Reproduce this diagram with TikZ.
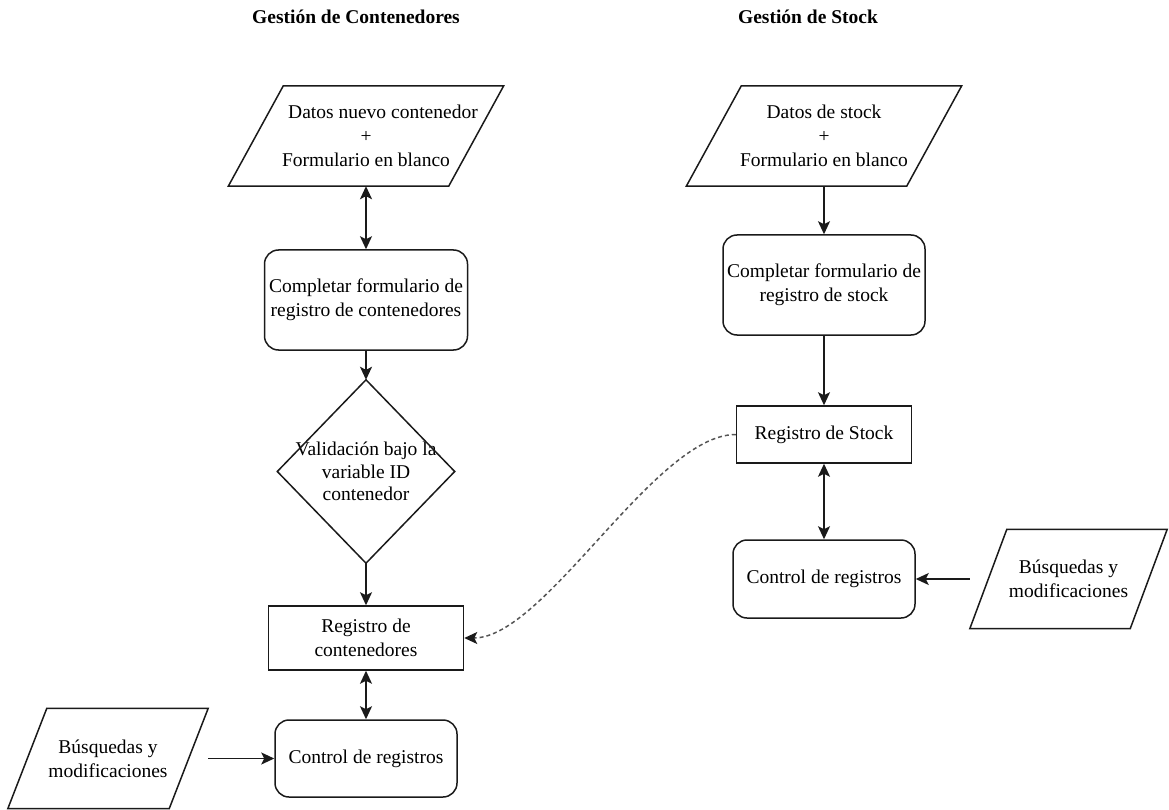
\documentclass[tikz,border=0pt]{standalone}
\usepackage{fontspec}
\setmainfont{Liberation Serif}
\usetikzlibrary{arrows.meta}
\definecolor{lc}{HTML}{1A1A1A}
\definecolor{dc}{HTML}{555555}
\begin{document}
\begin{tikzpicture}[x=1pt,y=-1pt,
  txt/.style={font=\fontsize{19.5}{24}\selectfont, align=center, inner sep=0pt, text=black},
  box/.style={txt, draw=lc, line width=1.5pt, rectangle},
  rbox/.style={box, rounded corners=14pt},
  holder/.style={txt, rectangle},
  outline/.style={draw=lc, line width=1.5pt, line join=miter},
  tip/.tip={Stealth[length=13pt,width=12pt,inset=3pt]},
  arr/.style={draw=lc, line width=1.6pt, -tip},
  darr/.style={draw=lc, line width=1.6pt, tip-tip},
  dlink/.style={draw=dc, line width=1.5pt, dash pattern=on 4pt off 3pt, -{Stealth[length=13pt,width=12pt,inset=3pt,color=lc]}},
  title/.style={font=\bfseries\fontsize{19.5}{24}\selectfont, inner sep=0pt}
]
\useasboundingbox (0,0) rectangle (1169,810);

% titles
\node[title] (t1) at (356,17) {Gestión de Contenedores};
\node[title] (t2) at (808,17) {Gestión de Stock};

% ---------- left column ----------
\node[holder, minimum width=275pt, minimum height=100pt] (dnc) at (366,136)
  {\hspace*{34pt}Datos nuevo contenedor\\+\\Formulario en blanco};
\draw[outline] (dnc.south west) -- ([xshift=-55pt]dnc.south east) -- (dnc.north east) -- ([xshift=55pt]dnc.north west) -- cycle;

\node[rbox, minimum width=203pt, minimum height=100pt] (cfc) at (366,300)
  {Completar formulario de\\registro de contenedores};

\node[holder, minimum width=177pt, minimum height=183pt, font=\fontsize{19.5}{22.5}\selectfont] (val) at (366,471.5)
  {Validación bajo la\\variable ID\\contenedor};
\draw[outline] (val.north) -- (val.east) -- (val.south) -- (val.west) -- cycle;

\node[box, minimum width=195pt, minimum height=64pt] (rc) at (366,638)
  {Registro de\\contenedores};

\node[rbox, minimum width=182pt, minimum height=77pt] (ctl1) at (366,758.5)
  {Control de registros};

\node[holder, minimum width=200pt, minimum height=100pt] (bq1) at (108,758.5)
  {Búsquedas y\\modificaciones};
\draw[outline] (bq1.south west) -- ([xshift=-39pt]bq1.south east) -- (bq1.north east) -- ([xshift=39pt]bq1.north west) -- cycle;

\draw[darr] (dnc.south) -- (cfc.north);
\draw[arr] (cfc.south) -- (val.north);
\draw[arr] (val.south) -- (rc.north);
\draw[darr] (rc.south) -- (ctl1.north);
\draw[arr] (bq1.east) -- (ctl1.west);

% ---------- right column ----------
\node[holder, minimum width=275pt, minimum height=100pt] (dst) at (824,136)
  {Datos de stock\\+\\Formulario en blanco};
\draw[outline] (dst.south west) -- ([xshift=-55pt]dst.south east) -- (dst.north east) -- ([xshift=55pt]dst.north west) -- cycle;

\node[rbox, minimum width=202pt, minimum height=100pt] (cfs) at (824,285)
  {Completar formulario de\\registro de stock};

\node[box, minimum width=175pt, minimum height=57pt] (rs) at (824,434.5)
  {Registro de Stock};

\node[rbox, minimum width=182pt, minimum height=78pt] (ctl2) at (824,579)
  {Control de registros};

\node[holder, minimum width=197pt, minimum height=99pt] (bq2) at (1068.5,579)
  {Búsquedas y\\modificaciones};
\draw[outline] (bq2.south west) -- ([xshift=-37pt]bq2.south east) -- (bq2.north east) -- ([xshift=37pt]bq2.north west) -- cycle;

\draw[arr] (dst.south) -- (cfs.north);
\draw[arr] (cfs.south) -- (rs.north);
\draw[darr] (rs.south) -- (ctl2.north);
\draw[arr] (bq2.west) -- (ctl2.east);

% dashed link
\draw[dlink] (rs.west) .. controls (655,434.5) and (545,638) .. (rc.east);
\end{tikzpicture}
\end{document}
